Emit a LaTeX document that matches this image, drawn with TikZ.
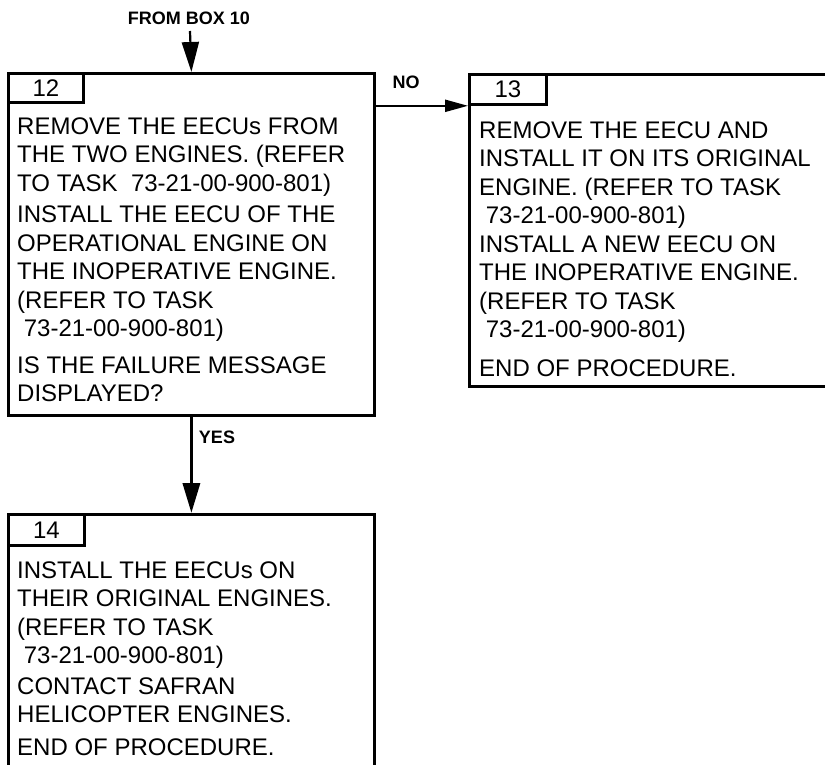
\documentclass[tikz,border=0pt]{standalone}
\usepackage{fontspec}
\setmainfont{Liberation Sans}
\usetikzlibrary{arrows.meta}
\tikzset{
  box/.style={draw,line width=2.8pt,inner sep=0pt,anchor=north west},
  tab/.style={draw,line width=2.8pt,inner sep=0pt,anchor=north west,font=\fontsize{24}{28}\selectfont},
  txt/.style={anchor=north west,align=left,inner sep=0pt,font=\fontsize{24}{28.5}\selectfont},
  lbl/.style={inner sep=0pt,font=\bfseries\fontsize{18}{20}\selectfont},
  arr/.style={line width=3.5pt,-{Triangle[length=30pt,width=17pt]}},
  arrno/.style={line width=2.2pt,-{Triangle[length=23pt,width=12pt]}},
}
\begin{document}
\begin{tikzpicture}[x=1pt,y=-1pt]
\useasboundingbox (0,0) rectangle (825,765);
\clip (0,0) rectangle (825,765);
\node[box,minimum width=366pt,minimum height=342pt] (b12) at (7,72){};
\node[box,minimum width=420pt,minimum height=312pt] (b13) at (468,73){};
\node[box,minimum width=366pt,minimum height=300pt] (b14) at (7,513){};
\node[tab,minimum width=75pt,minimum height=29pt] (t12) at (7,72){12};
\node[tab,minimum width=77pt,minimum height=30pt] (t13) at (468,73){13};
\node[tab,minimum width=76pt,minimum height=31pt] (t14) at (7,513){14};
\node[txt] (x12) at (17,117.5){REMOVE THE EECUs FROM\\ THE TWO ENGINES. (REFER\\ TO TASK~ 73-21-00-900-801)\\[3pt]
  INSTALL THE EECU OF THE\\ OPERATIONAL ENGINE ON\\ THE INOPERATIVE ENGINE.\\ (REFER TO TASK\\ \ 73-21-00-900-801)\\[8pt]
  IS THE FAILURE MESSAGE\\ DISPLAYED?};
\node[txt] (x13) at (479,121.5){REMOVE THE EECU AND\\ INSTALL IT ON ITS ORIGINAL\\ ENGINE. (REFER TO TASK\\ \ 73-21-00-900-801)\\
  INSTALL A NEW EECU ON\\ THE INOPERATIVE ENGINE.\\ (REFER TO TASK\\ \ 73-21-00-900-801)\\[10pt]
  END OF PROCEDURE.};
\node[txt] (x14) at (17,561.5){INSTALL THE EECUs ON\\ THEIR ORIGINAL ENGINES.\\ (REFER TO TASK\\ \ 73-21-00-900-801)\\[2pt]
  CONTACT SAFRAN\\ HELICOPTER ENGINES.\\[4pt]
  END OF PROCEDURE.};
\node[lbl] (from10) at (189,18){FROM BOX 10};
\node[lbl] (lno) at (406,82){NO};
\node[lbl] (lyes) at (217,437){YES};
\coordinate (in10) at (190,31);
\draw[arr,line width=2.2pt] (in10) -- (b12.north);
\draw[arrno] (b12.east |- t13.south) -- (t13.south west);
\draw[arr] (b12.south) -- (b14.north);
\end{tikzpicture}
\end{document}
